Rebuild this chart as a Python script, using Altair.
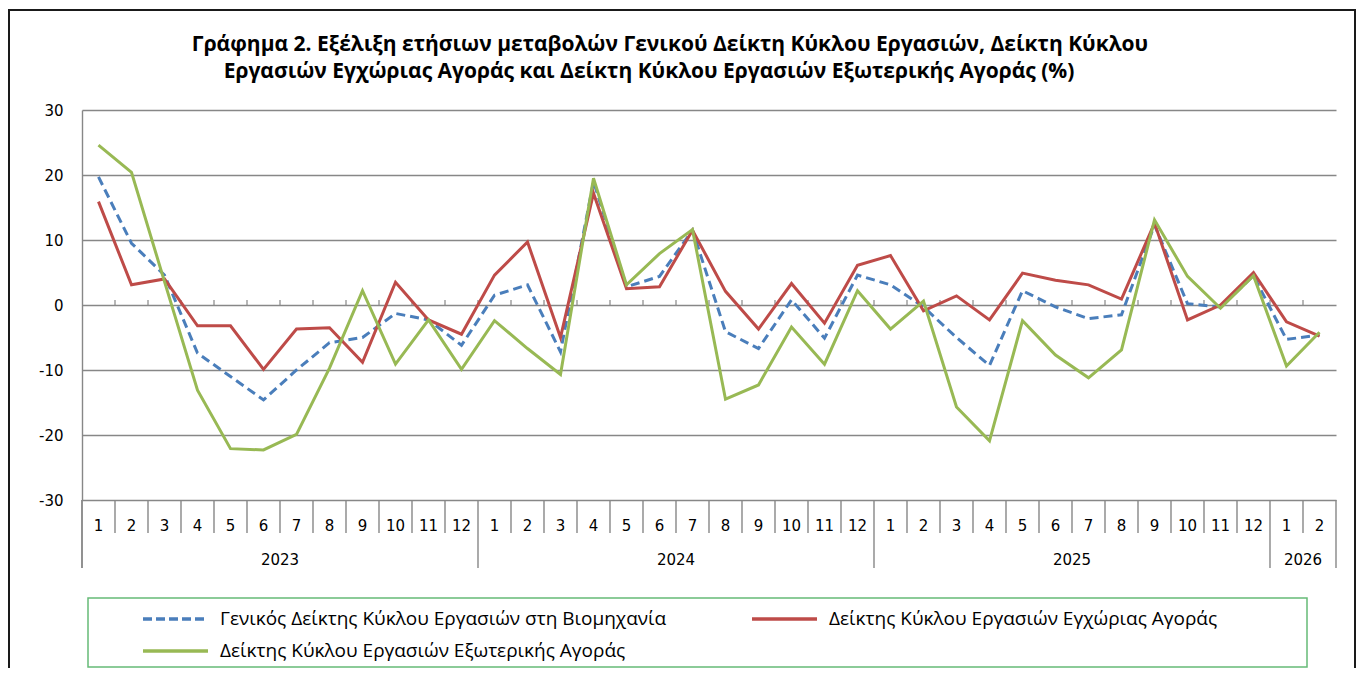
import altair as alt
import pandas as pd

# ---------------- data ----------------
months = [1, 2, 3, 4, 5, 6, 7, 8, 9, 10, 11, 12,
          1, 2, 3, 4, 5, 6, 7, 8, 9, 10, 11, 12,
          1, 2, 3, 4, 5, 6, 7, 8, 9, 10, 11, 12,
          1, 2]
year_labels = ["2023", "2024", "2025", "2026"]
year_counts = [12, 12, 12, 2]

general = [19.7, 9.5, 4.6, -7.4, -11.0, -14.6, -10.0, -5.8, -5.0, -1.3, -2.3, -6.2,
           1.5, 3.1, -7.2, 19.0, 2.8, 4.4, 11.5, -4.1, -6.7, 0.8, -5.1, 4.6,
           3.1, -0.3, -5.0, -9.3, 2.2, -0.3, -2.1, -1.5, 12.3, 0.2, -0.3, 4.5,
           -5.3, -4.6]
domestic = [15.9, 3.1, 4.0, -3.2, -3.2, -9.9, -3.7, -3.5, -8.8, 3.5, -2.3, -4.5,
            4.6, 9.7, -5.0, 17.2, 2.5, 2.8, 11.5, 2.1, -3.7, 3.3, -2.8, 6.1,
            7.6, -0.9, 1.4, -2.3, 4.9, 3.8, 3.1, 0.9, 12.6, -2.3, 0.0, 5.0,
            -2.6, -4.8]
foreign = [24.6, 20.4, 3.6, -13.1, -22.1, -22.3, -19.9, -9.7, 2.2, -9.1, -2.3, -9.9,
           -2.4, -6.7, -10.7, 19.5, 3.1, 7.9, 11.6, -14.5, -12.3, -3.4, -9.1, 2.2,
           -3.7, 0.6, -15.7, -20.9, -2.4, -7.7, -11.2, -6.9, 13.1, 4.4, -0.5, 4.5,
           -9.4, -4.2]

series_names = [
    "Γενικός Δείκτης Κύκλου Εργασιών στη Βιομηχανία",
    "Δείκτης Κύκλου Εργασιών Εγχώριας Αγοράς",
    "Δείκτης Κύκλου Εργασιών Εξωτερικής Αγοράς",
]
colors = ["#4A7EBB", "#BE4B48", "#98B954"]

title_lines = [
    "Γράφημα 2. Εξέλιξη ετήσιων μεταβολών Γενικού Δείκτη Κύκλου Εργασιών,  Δείκτη Κύκλου",
    "Εργασιών Εγχώριας Αγοράς και Δείκτη Κύκλου Εργασιών Εξωτερικής Αγοράς (%)",
]

# ---------------- tables ----------------
n = len(months)
idx = list(range(n))
df_g = pd.DataFrame({"i": idx, "v": general})
df_d = pd.DataFrame({"i": idx, "v": domestic})
df_f = pd.DataFrame({"i": idx, "v": foreign})
df_months = pd.DataFrame({"i": idx, "m": [str(m) for m in months]})

year_start = [sum(year_counts[:k]) for k in range(len(year_counts))]
df_years = pd.DataFrame({
    "c": [s + (c - 1) / 2 for s, c in zip(year_start, year_counts)],
    "y": year_labels,
})
year_bounds = [s - 0.5 for s in year_start] + [n - 0.5]
month_bounds = [k - 0.5 for k in range(1, n) if (k - 0.5) not in year_bounds]
df_mb = pd.DataFrame({"b": month_bounds})
df_yb = pd.DataFrame({"b": year_bounds})
df_zt = pd.DataFrame({"b": [k - 0.5 for k in range(1, n)]})

W, H = 1254, 390
xs = alt.Scale(domain=[-0.5, n - 0.5], nice=False, zero=False)
ys = alt.Scale(domain=[-30, 30], nice=False)
X = lambda f: alt.X(f, type="quantitative", scale=xs, axis=None)

GRID = "#878787"
FONT_NUM = "DejaVu Sans"
FONT_TXT = "Open Sans"

one = pd.DataFrame({"a": [0]})

# frame
frame = alt.Chart(one).mark_rect(fill=None, stroke="#1a1a1a", strokeWidth=2).encode(
    x=alt.value(-73), x2=alt.value(W + 19), y=alt.value(-100), y2=alt.value(H + 200)
)

# y axis + grid (carrier layer)
axis_layer = alt.Chart(df_g).mark_line(opacity=0).encode(
    x=X("i"),
    y=alt.Y("v:Q", scale=ys, title=None,
            axis=alt.Axis(values=[-30, -20, -10, 0, 10, 20, 30], grid=True,
                          gridColor=GRID, gridWidth=1.4, domainColor=GRID,
                          domainWidth=1.4, ticks=False, labelPadding=19,
                          labelExpr="'' + datum.value",
                          labelFont=FONT_NUM, labelFontSize=15,
                          labelColor="#000000")),
)

# category table lines
left_ext = alt.Chart(one).mark_rule(color=GRID, strokeWidth=1.4).encode(
    x=alt.value(0), y=alt.value(H), y2=alt.value(H + 68))
mb = alt.Chart(df_mb).mark_rule(color=GRID, strokeWidth=1.4).encode(
    x=X("b"), y=alt.value(H), y2=alt.value(H + 33))
yb = alt.Chart(df_yb).mark_rule(color=GRID, strokeWidth=1.4).encode(
    x=X("b"), y=alt.value(H), y2=alt.value(H + 68))
zt = alt.Chart(df_zt).mark_rule(color=GRID, strokeWidth=1.2, y2Offset=-5).encode(
    x=X("b"), y=alt.datum(0, scale=ys), y2=alt.datum(0))

month_txt = alt.Chart(df_months).mark_text(font=FONT_NUM, fontSize=15, color="#000000",
                                           baseline="middle").encode(
    x=X("i"), y=alt.value(H + 26), text="m:N")
year_txt = alt.Chart(df_years).mark_text(font=FONT_NUM, fontSize=15, color="#000000",
                                         baseline="middle").encode(
    x=X("c"), y=alt.value(H + 60), text="y:N")

# series lines
def line(df, color, dash=None):
    kw = dict(color=color, strokeWidth=3, strokeJoin="miter", strokeCap="butt")
    if dash:
        kw["strokeDash"] = dash
    return alt.Chart(df).mark_line(**kw).encode(x=X("i"), y=alt.Y("v:Q", scale=ys))

l_g = line(df_g, colors[0], [9, 5])
l_d = line(df_d, colors[1])
l_f = line(df_f, colors[2])

# title
t1 = alt.Chart(one).mark_text(text=title_lines[0], font=FONT_TXT, fontWeight="bold",
                              fontSize=21, color="#000000", align="center",
                              baseline="middle").encode(x=alt.value(588), y=alt.value(-65))
t2 = alt.Chart(one).mark_text(text=title_lines[1], font=FONT_TXT, fontWeight="bold",
                              fontSize=21, color="#000000", align="center",
                              baseline="middle").encode(x=alt.value(567), y=alt.value(-38))

# legend
leg_box = alt.Chart(one).mark_rect(fill=None, stroke="#66BB77", strokeWidth=1.5).encode(
    x=alt.value(6), x2=alt.value(1225), y=alt.value(488), y2=alt.value(557))

def leg_entry(k, x0, yy):
    kw = dict(color=colors[k], strokeWidth=3.5)
    if k == 0:
        kw["strokeDash"] = [9, 4]
    r = alt.Chart(one).mark_rule(**kw).encode(
        x=alt.value(x0), x2=alt.value(x0 + 65), y=alt.value(yy))
    t = alt.Chart(one).mark_text(text=series_names[k], font=FONT_TXT, fontSize=19,
                                 color="#000000", align="left", baseline="middle").encode(
        x=alt.value(x0 + 77), y=alt.value(yy))
    return [r, t]

legend_layers = leg_entry(0, 61, 509) + leg_entry(1, 670, 509) + leg_entry(2, 61, 541)

chart = alt.layer(
    frame, axis_layer, left_ext, mb, yb, zt, month_txt, year_txt,
    l_g, l_d, l_f, t1, t2, leg_box, *legend_layers
).properties(
    width=W, height=H,
    autosize=alt.AutoSizeParams(type="none"),
    padding={"left": 74, "top": 102, "right": 21, "bottom": 168},
).configure_view(stroke=None)

chart.save("out.html", embed_options={"renderer": "svg", "actions": False})
